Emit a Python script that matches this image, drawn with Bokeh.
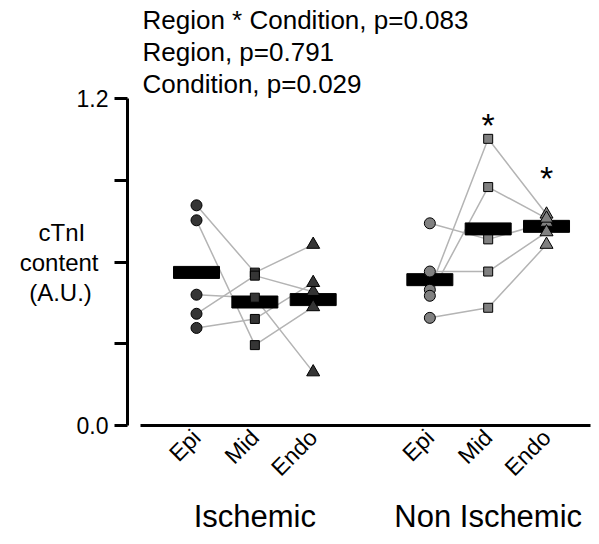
import numpy as np
from bokeh.plotting import figure
from bokeh.models import Range1d, FixedTicker, LinearAxis, Title
from bokeh.core.properties import value
from bokeh.embed import file_html
from bokeh.resources import INLINE

# ---------------- data ----------------
regions = ["Epi", "Mid", "Endo"]
groups = ["Ischemic", "Non Ischemic"]
isch_pos = [1, 2, 3]
nonisch_pos = [5, 6, 7]

# per subject values (Epi, Mid, Endo order within each subject)
isch_epi = [0.808, 0.753, 0.480, 0.410, 0.358]
isch_mid = [0.561, 0.295, 0.469, 0.550, 0.391]
isch_endo = [0.664, 0.435, 0.196, 0.491, 0.524]

nonisch_epi = [0.742, 0.565, 0.498, 0.476, 0.395]
nonisch_mid = [0.683, 0.565, 1.052, 0.875, 0.432]
nonisch_endo = [0.745, 0.710, 0.775, 0.760, 0.664]

stats_lines = ["Region * Condition, p=0.083", "Region, p=0.791", "Condition,  p=0.029"]
sig_pos = [6, 7]
sig_y = [1.11, 0.915]
sig_text = ["*", "*"]

y_ticks = [0.0, 0.3, 0.6, 0.9, 1.2]
y_tick_labels = ["0.0", "", "", "", "1.2"]
NB = "\u00a0"
ylabel_lines = ["cTnI" + NB * 2, "content", "(A.U.)" + NB]
ylabel_y = [0.708, 0.598, 0.488]

FONT = "Liberation Sans"
ISCH_FILL = "#353535"
NONISCH_FILL = "#808080"
LINE_COL = "#b4b4b4"

p = figure(width=599, height=544, x_range=Range1d(-0.183, 7.754), y_range=Range1d(0, 1.2),
           output_backend="svg", toolbar_location=None,
           min_border_left=127, min_border_right=9, min_border_top=98, min_border_bottom=119)
p.outline_line_color = None
p.xgrid.visible = False
p.ygrid.visible = False
p.background_fill_color = "white"
p.title.visible = False

# subject connecting lines
for pos, e, m, n in [(isch_pos, isch_epi, isch_mid, isch_endo),
                     (nonisch_pos, nonisch_epi, nonisch_mid, nonisch_endo)]:
    xs = [list(pos) for _ in e]
    ys = [[a, b, c] for a, b, c in zip(e, m, n)]
    p.multi_line(xs=xs, ys=ys, line_color=LINE_COL, line_width=1.5)

# mean bars
all_pos = isch_pos + nonisch_pos
means = [float(np.mean(v)) for v in (isch_epi, isch_mid, isch_endo, nonisch_epi, nonisch_mid, nonisch_endo)]
p.rect(x=all_pos, y=means, width=46, height=12, width_units="screen", height_units="screen",
       fill_color="black", line_color="black")

# markers
for pos, vals, fill in [(isch_pos, (isch_epi, isch_mid, isch_endo), ISCH_FILL),
                        (nonisch_pos, (nonisch_epi, nonisch_mid, nonisch_endo), NONISCH_FILL)]:
    p.scatter(x=[pos[0]] * len(vals[0]), y=vals[0], marker="circle", size=11,
              fill_color=fill, line_color="black", line_width=1)
    p.scatter(x=[pos[1]] * len(vals[1]), y=vals[1], marker="square", size=9,
              fill_color=fill, line_color="black", line_width=1)
    p.scatter(x=[pos[2]] * len(vals[2]), y=vals[2], marker="triangle", size=13,
              fill_color=fill, line_color="black", line_width=1)

# significance stars
p.text(x=sig_pos, y=sig_y, text=sig_text, text_align="center", text_baseline="middle",
       text_font=value(FONT), text_font_size="34px",
       text_color="black", y_offset=2)

# y axis
ya = p.yaxis[0]
ya.ticker = FixedTicker(ticks=y_ticks)
ya.major_label_overrides = {t: l for t, l in zip(y_ticks, y_tick_labels)}
ya.bounds = (0, 1.2)
ya.axis_line_width = 3
ya.major_tick_line_width = 3
ya.major_tick_out = 13
ya.major_tick_in = 0
ya.minor_tick_line_color = None
ya.major_label_text_font = FONT
ya.major_label_text_font_size = "23px"
ya.major_label_standoff = 6
ya.major_label_text_color = "black"

# y label: an extra left axis carrying the three label lines
la = LinearAxis(ticker=FixedTicker(ticks=ylabel_y),
                major_label_overrides={t: l for t, l in zip(ylabel_y, ylabel_lines)})
la.axis_line_color = None
la.major_tick_line_color = None
la.minor_tick_line_color = None
la.major_label_text_font = FONT
la.major_label_text_font_size = "24px"
la.major_label_standoff = -31
la.major_label_text_color = "black"
p.add_layout(la, "left")

# x axis (regions)
xa = p.xaxis[0]
xa.ticker = FixedTicker(ticks=all_pos)
xa.major_label_overrides = {t: l for t, l in zip(all_pos, regions + regions)}
xa.major_label_orientation = np.pi / 4
xa.bounds = (0.04, 7.754)
xa.axis_line_width = 3
xa.major_tick_out = 0
xa.major_tick_in = 0
xa.major_tick_line_color = None
xa.minor_tick_line_color = None
xa.major_label_text_font = FONT
xa.major_label_text_font_size = "23px"
xa.major_label_standoff = 8
xa.major_label_text_color = "black"

# group axis
group_ticks = [isch_pos[1], nonisch_pos[1]]
ga = LinearAxis(ticker=FixedTicker(ticks=group_ticks),
                major_label_overrides={t: l for t, l in zip(group_ticks, groups)})
ga.axis_line_color = None
ga.major_tick_line_color = None
ga.minor_tick_line_color = None
ga.major_label_text_font = FONT
ga.major_label_text_font_size = "31px"
ga.major_label_standoff = 0
ga.major_label_text_color = "black"
p.add_layout(ga, "below")

# stats text (innermost first)
for i, t in enumerate(reversed(stats_lines)):
    p.add_layout(Title(text=t, align="left", offset=15, text_font=FONT, text_font_size="26px",
                       text_font_style="normal", text_color="black", standoff=0), "above")

open("out.html", "w").write(file_html(p, INLINE))
